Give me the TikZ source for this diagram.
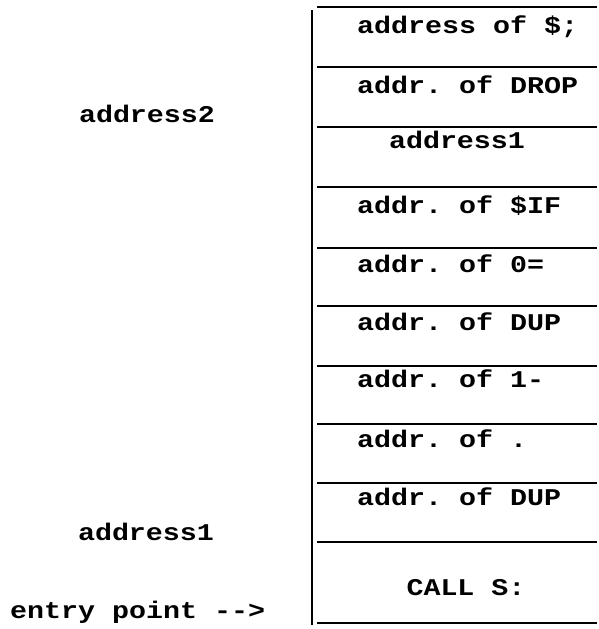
\documentclass[tikz,border=0pt]{standalone}
\usepackage{fontspec}
\newfontfamily\typer{Liberation Mono}[FakeStretch=1.18, Ligatures=TeXOff]
\usetikzlibrary{positioning}
\tikzset{
  typed/.style={font=\typer\bfseries\fontsize{24}{28}\selectfont\frenchspacing, inner sep=0pt},
  word/.style={typed, anchor=base west},
  midword/.style={typed, anchor=base},
  rule/.style={line width=2.6pt},
  wall/.style={line width=1.3pt},
}

\begin{document}
\begin{tikzpicture}[x=1pt, y=-1pt]
  \useasboundingbox (0,0) rectangle (599,629);
  % the stack of cells
  \foreach \yy in {7,67,127,187,248,306,366,424,483,542,623}
    \draw[rule] (317,\yy) -- (597,\yy);
  \coordinate (walltop) at (312,10);
  \coordinate (wallbot) at (312,625);
  \draw[wall] (walltop) -- (wallbot);
  % cell contents
  \node[word] (semis) at (357,33) {address of \$;};
  \node[word] (drop) at (357,93) {addr. of DROP};
  \node[midword] (addrone) at (457,148) {address1};
  \node[word] (ifq) at (357,213) {addr. of \$IF};
  \node[word] (zeq) at (357,272) {addr. of 0=};
  \node[word] (dupa) at (357,330) {addr. of DUP};
  \node[word] (oneminus) at (357,387) {addr. of 1-};
  \node[word] (dot) at (357,447) {addr. of .};
  \node[word] (dupb) at (357,505) {addr. of DUP};
  \node[midword] (callx) at (466,595) {CALL S:};
  % labels on the left
  \node[midword] (lbltwo) at (147,122) {address2};
  \node[midword] (lblone) at (146,540) {address1};
  \node[word] (entry) at (10,618) {entry point -->};
\end{tikzpicture}
\end{document}
